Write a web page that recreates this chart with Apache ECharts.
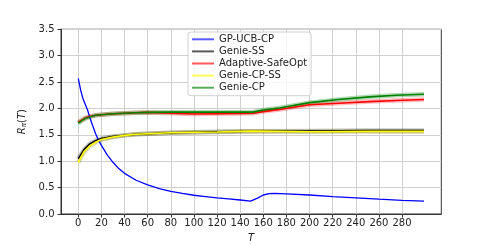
<!DOCTYPE html>
<html><head><meta charset="utf-8">
<script src="https://cdn.jsdelivr.net/npm/echarts@6/dist/echarts.min.js"></script>
<style>html,body{margin:0;padding:0;background:#fff}#c{width:491px;height:245px}</style>
</head><body><div id="c"></div>
<script>
// Data
const xTicks = [0,20,40,60,80,100,120,140,160,180,200,220,240,260,280];
const yTicks = [0,0.5,1,1.5,2,2.5,3,3.5];

const tBlue = [0,2,4,6,8,10,12,15,17,20,25,30,35,40,50,60,70,80,90,100,110,120,130,140,149,155,160,165,170,180,200,220,240,260,280,299];
const gpUcbCp = [2.57,2.35,2.19,2.08,1.97,1.83,1.70,1.52,1.42,1.30,1.12,0.98,0.86,0.77,0.64,0.55,0.48,0.43,0.39,0.355,0.33,0.305,0.285,0.265,0.245,0.30,0.36,0.385,0.39,0.38,0.36,0.33,0.305,0.28,0.26,0.245];

const tUpper = [0,3,6,10,15,20,30,40,50,60,80,100,120,140,151,160,174,200,225,252,275,299];
const genieCp = [1.72,1.77,1.81,1.84,1.87,1.88,1.90,1.91,1.92,1.925,1.93,1.93,1.93,1.93,1.93,1.97,2.01,2.11,2.17,2.22,2.25,2.27];
const adaptiveSafeOpt = [1.74,1.78,1.82,1.85,1.87,1.88,1.90,1.91,1.92,1.925,1.91,1.895,1.90,1.905,1.91,1.94,1.98,2.07,2.10,2.13,2.15,2.17];

const tLower = [0,2,5,10,15,20,30,40,50,60,80,100,120,150,151,200,250,299];
const genieSs = [1.05,1.12,1.22,1.33,1.39,1.43,1.47,1.49,1.51,1.52,1.54,1.55,1.56,1.57,1.575,1.575,1.58,1.58];
const genieCpSs = [0.98,1.06,1.18,1.29,1.36,1.41,1.46,1.49,1.51,1.52,1.54,1.55,1.555,1.57,1.56,1.56,1.565,1.565];

const names = ['GP-UCB-CP','Genie-SS','Adaptive-SafeOpt','Genie-CP-SS','Genie-CP'];
const colors = ['#0000ff','#000000','#ff0000','#ffff00','#008000'];

function pairs(t, v){ return t.map((x,i)=>[x,v[i]]); }
const dataSets = [pairs(tBlue,gpUcbCp), pairs(tLower,genieSs), pairs(tUpper,adaptiveSafeOpt), pairs(tLower,genieCpSs), pairs(tUpper,genieCp)];
const bandOpacity = [0, 0.22, 0.25, 0.3, 0.3];
const lineWidths = [1.3,1.5,1.6,1.6,1.6];

const series = [];
dataSets.forEach((d,i)=>{
  if (bandOpacity[i] > 0) series.push({
    name: '_band'+i, type:'line', data:d, symbol:'none', silent:true, z:1,
    lineStyle:{color: i===3 ? '#808000' : colors[i], width:4.5, opacity:bandOpacity[i]},
    itemStyle:{color:colors[i]}
  });
});
dataSets.forEach((d,i)=>{
  series.push({
    name: names[i], type:'line', data:d, symbol:'none', z:2+i,
    lineStyle:{color:colors[i], width:lineWidths[i]},
    itemStyle:{color:colors[i]}
  });
});

const font = 'DejaVu Sans';
const chart = echarts.init(document.getElementById('c'), null, {renderer:'canvas'});
chart.setOption({
  animation:false,
  backgroundColor:'#fff',
  grid:{left:61, top:29.3, right:49.7, bottom:31, containLabel:false, outerBoundsMode:'none',
        show:true, borderColor:'#333', borderWidth:1, backgroundColor:'transparent'},
  legend:{
    data:names, orient:'vertical', left:188, top:32,
    padding:[1.3,4,2,4], itemGap:0.1, itemWidth:22, itemHeight:2, icon:'rect',
    itemStyle:{opacity:0.65},
    textStyle:{fontFamily:font, fontSize:10, color:'#222', lineHeight:12},
    backgroundColor:'rgba(255,255,255,0.8)', borderColor:'#d0d0d0', borderWidth:1, borderRadius:3
  },
  xAxis:{
    type:'value', min:-14.95, max:313.95,
    name:'T', nameLocation:'middle', nameGap:13,
    nameTextStyle:{fontFamily:font, fontSize:10, fontStyle:'italic', color:'#222'},
    axisLine:{show:true, onZero:false, lineStyle:{color:'#333', width:1}},
    axisTick:{show:true, inside:false, length:3.5, lineStyle:{color:'#333'}, customValues:xTicks},
    axisLabel:{fontFamily:font, fontSize:10, color:'#222', margin:4.5, customValues:xTicks, formatter:v=>String(v)},
    splitLine:{show:true, lineStyle:{color:'#d0d0d0', width:1}}
  },
  yAxis:{
    type:'value', min:0, max:3.5, interval:0.5,
    name:'{i|R}{s|π}{n|(}{i|T}{n|)}', nameLocation:'middle', nameGap:28, nameRotate:90,
    nameTextStyle:{fontFamily:font, fontSize:10, color:'#222',
      rich:{i:{fontFamily:font,fontSize:10,fontStyle:'italic',color:'#222'},
            n:{fontFamily:font,fontSize:10,color:'#222'},
            s:{fontFamily:font,fontSize:7,fontStyle:'italic',color:'#222',verticalAlign:'bottom',padding:[4,0,0,0]}}},
    axisLine:{show:true, onZero:false, lineStyle:{color:'#333', width:1}},
    axisTick:{show:true, inside:false, length:3.5, lineStyle:{color:'#333'}},
    axisLabel:{fontFamily:font, fontSize:10, color:'#222', margin:6.5, formatter:v=>v.toFixed(1)},
    splitLine:{show:true, lineStyle:{color:'#d0d0d0', width:1}}
  },
  series: series
});
</script></body></html>
